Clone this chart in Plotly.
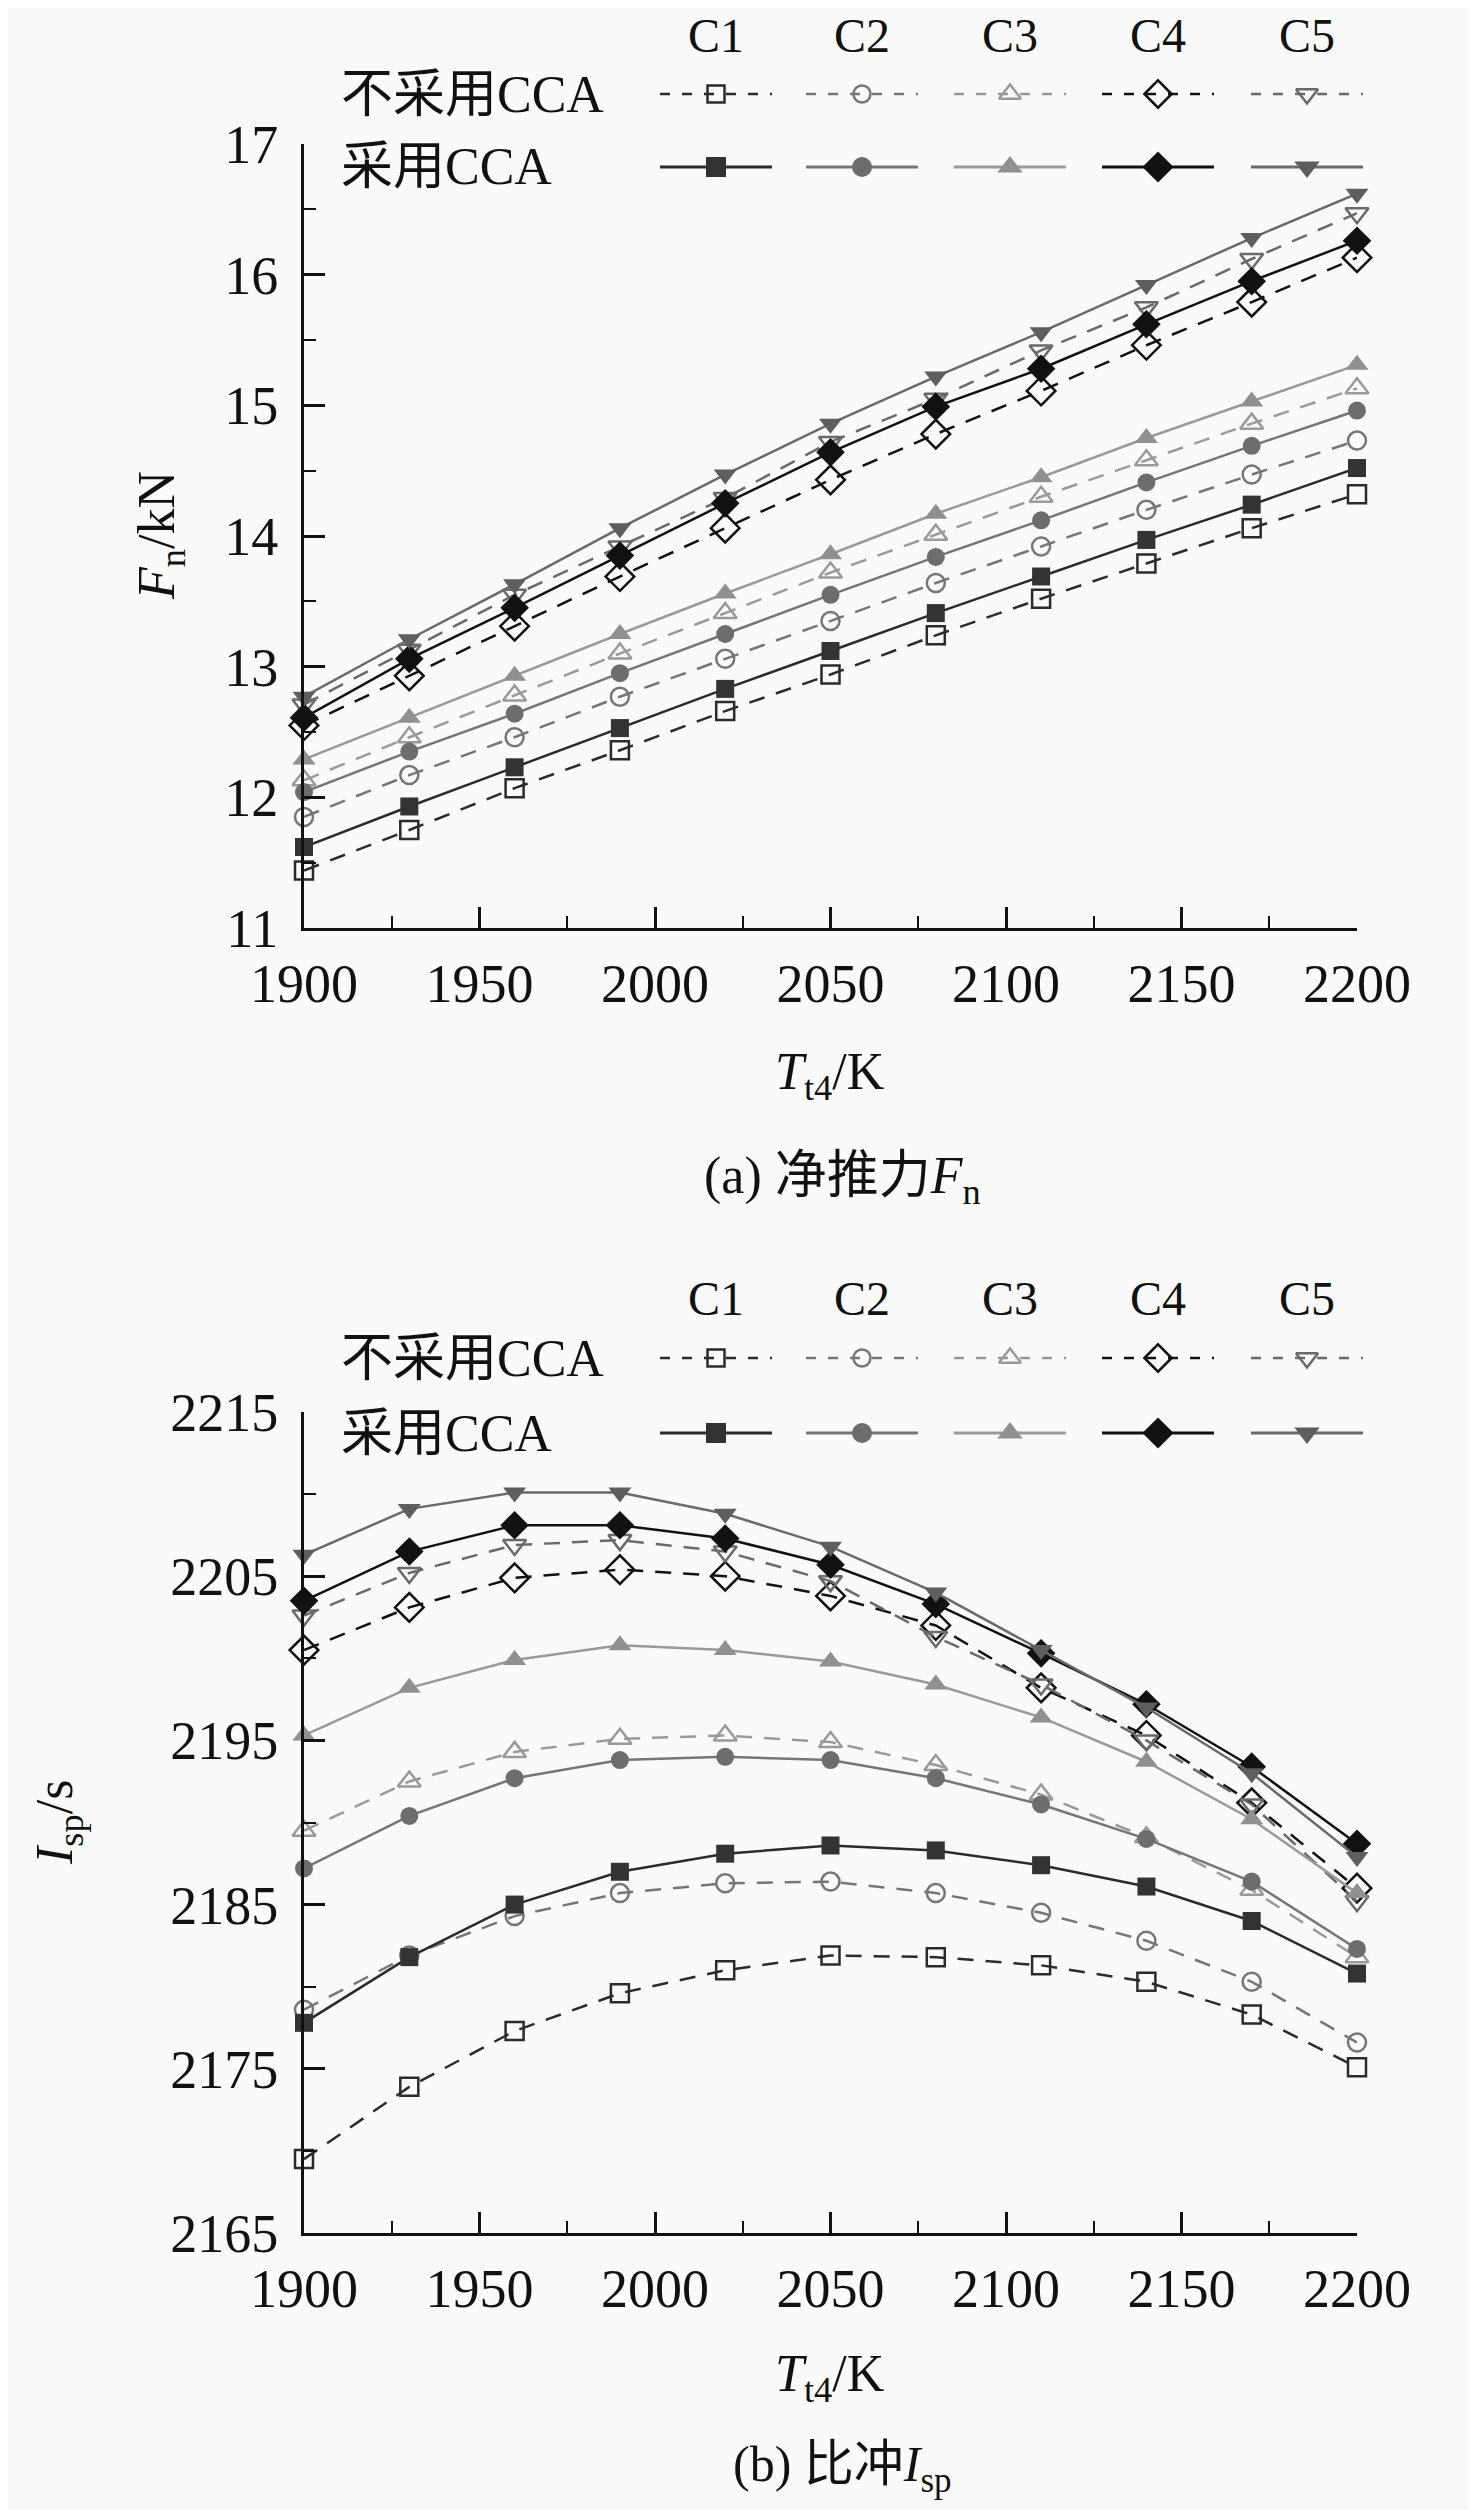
import plotly.graph_objects as go

# --- data ---
T_T4 = [1900, 1930, 1960, 1990, 2020, 2050, 2080, 2110, 2140, 2170, 2200]
CASES = ["C1", "C2", "C3", "C4", "C5"]

# net thrust Fn / kN, without CCA (dashed, open) and with CCA (solid, filled)
fn_c1_off = [11.44, 11.75, 12.07, 12.36, 12.66, 12.94, 13.24, 13.52, 13.79, 14.06, 14.32]
fn_c2_off = [11.85, 12.17, 12.46, 12.77, 13.06, 13.35, 13.64, 13.92, 14.20, 14.47, 14.73]
fn_c3_off = [12.13, 12.46, 12.78, 13.10, 13.41, 13.72, 14.01, 14.30, 14.58, 14.86, 15.13]
fn_c4_off = [12.55, 12.93, 13.31, 13.69, 14.06, 14.43, 14.78, 15.11, 15.46, 15.79, 16.13]
fn_c5_off = [12.71, 13.13, 13.55, 13.92, 14.29, 14.72, 15.05, 15.42, 15.75, 16.12, 16.47]
fn_c1_on = [11.62, 11.93, 12.23, 12.53, 12.83, 13.12, 13.41, 13.69, 13.97, 14.24, 14.52]
fn_c2_on = [12.04, 12.35, 12.64, 12.95, 13.25, 13.55, 13.84, 14.12, 14.41, 14.69, 14.96]
fn_c3_on = [12.29, 12.61, 12.93, 13.25, 13.56, 13.86, 14.17, 14.45, 14.75, 15.03, 15.31]
fn_c4_on = [12.61, 13.06, 13.45, 13.85, 14.25, 14.64, 14.99, 15.28, 15.62, 15.95, 16.26]
fn_c5_on = [12.77, 13.21, 13.63, 14.06, 14.47, 14.86, 15.22, 15.56, 15.92, 16.28, 16.62]

# specific impulse Isp / s
isp_c1_off = [2169.5, 2173.9, 2177.3, 2179.6, 2181.0, 2181.9, 2181.8, 2181.3, 2180.3, 2178.3, 2175.1]
isp_c2_off = [2178.6, 2181.9, 2184.3, 2185.7, 2186.3, 2186.4, 2185.7, 2184.5, 2182.8, 2180.3, 2176.6]
isp_c3_off = [2189.5, 2192.5, 2194.3, 2195.1, 2195.3, 2194.9, 2193.5, 2191.7, 2189.1, 2185.9, 2181.8]
isp_c4_off = [2200.5, 2203.1, 2204.9, 2205.4, 2205.0, 2203.8, 2202.0, 2198.2, 2195.3, 2191.2, 2186.0]
isp_c5_off = [2202.6, 2205.2, 2206.9, 2207.2, 2206.5, 2204.7, 2201.3, 2198.4, 2195.0, 2191.1, 2185.2]
isp_c1_on = [2177.8, 2181.8, 2185.0, 2187.0, 2188.1, 2188.6, 2188.3, 2187.4, 2186.1, 2184.0, 2180.8]
isp_c2_on = [2187.2, 2190.4, 2192.7, 2193.8, 2194.0, 2193.8, 2192.7, 2191.1, 2189.0, 2186.4, 2182.3]
isp_c3_on = [2195.3, 2198.2, 2199.9, 2200.8, 2200.5, 2199.8, 2198.4, 2196.4, 2193.7, 2190.2, 2185.7]
isp_c4_on = [2203.5, 2206.5, 2208.1, 2208.1, 2207.3, 2205.7, 2203.3, 2200.3, 2197.2, 2193.4, 2188.7]
isp_c5_on = [2206.3, 2209.1, 2210.1, 2210.1, 2208.8, 2206.8, 2204.0, 2200.5, 2197.0, 2193.0, 2187.9]

# --- style ---
W, H = 1476, 2510
OFF = 8  # page body margin
BG = "#fafafa"
FONT = "Liberation Serif, Times New Roman, Noto Sans CJK SC, serif"
LINE_COL = ["#2b2b2b", "#767676", "#9a9a9a", "#111111", "#6a6a6a"]
MARK_COL = ["#333333", "#6d6d6d", "#909090", "#111111", "#5e5e5e"]
SYM_ON = ["square", "circle", "triangle-up", "diamond", "triangle-down"]
SYM_OFF = ["square-open", "circle-open", "triangle-up-open", "diamond-open", "triangle-down-open"]
MSIZE = [18, 18, 20, 22, 20]
DASH = "16px,12px"


def px(x):
    return (x - OFF) / W


def py(y):
    return 1 - (y - OFF) / H


fig = go.Figure()

panels = [
    ("x", "y", [fn_c1_off, fn_c2_off, fn_c3_off, fn_c4_off, fn_c5_off],
     [fn_c1_on, fn_c2_on, fn_c3_on, fn_c4_on, fn_c5_on]),
    ("x2", "y2", [isp_c1_off, isp_c2_off, isp_c3_off, isp_c4_off, isp_c5_off],
     [isp_c1_on, isp_c2_on, isp_c3_on, isp_c4_on, isp_c5_on]),
]

for xa, ya, offs, ons in panels:
    for i in range(5):
        fig.add_trace(go.Scatter(
            x=T_T4, y=offs[i], xaxis=xa, yaxis=ya, mode="lines+markers",
            line=dict(color=LINE_COL[i], width=2.5, dash=DASH),
            marker=dict(symbol=SYM_OFF[i], size=MSIZE[i], color=LINE_COL[i],
                        line=dict(width=2.5, color=LINE_COL[i])),
            cliponaxis=False, showlegend=False))
    for i in range(5):
        fig.add_trace(go.Scatter(
            x=T_T4, y=ons[i], xaxis=xa, yaxis=ya, mode="lines+markers",
            line=dict(color=LINE_COL[i], width=2.5),
            marker=dict(symbol=SYM_ON[i], size=MSIZE[i], color=MARK_COL[i],
                        line=dict(width=0)),
            cliponaxis=False, showlegend=False))

# --- hand-made grid legend, drawn on a hidden pixel-space axis ---
COL_X = [716, 862, 1010, 1158, 1307]
annotations = []


def note(x, y, text, size, xanchor="center", angle=0):
    annotations.append(dict(x=px(x), y=py(y), text=text, showarrow=False, textangle=angle,
                            xanchor=xanchor, yanchor="middle", xref="paper", yref="paper",
                            borderpad=0, font=dict(size=size, color="#111")))


def add_legend(y_head, y_off, y_on):
    for i, c in enumerate(COL_X):
        note(c, y_head, CASES[i], 48)
        fig.add_trace(go.Scatter(x=[c - 56, c + 56], y=[y_off, y_off], xaxis="x3", yaxis="y3",
                                 mode="lines", line=dict(color=LINE_COL[i], width=2.5, dash="10px,12px"),
                                 showlegend=False))
        fig.add_trace(go.Scatter(x=[c], y=[y_off], xaxis="x3", yaxis="y3", mode="markers",
                                 marker=dict(symbol=SYM_OFF[i], size=MSIZE[i] - 1, color=LINE_COL[i],
                                             line=dict(width=2.5, color=LINE_COL[i])),
                                 showlegend=False))
        fig.add_trace(go.Scatter(x=[c - 56, c + 56], y=[y_on, y_on], xaxis="x3", yaxis="y3",
                                 mode="lines", line=dict(color=LINE_COL[i], width=3),
                                 showlegend=False))
        fig.add_trace(go.Scatter(x=[c], y=[y_on], xaxis="x3", yaxis="y3", mode="markers",
                                 marker=dict(symbol=SYM_ON[i], size=MSIZE[i] + 2, color=MARK_COL[i]),
                                 showlegend=False))
    note(340, y_off, "不采用CCA", 52, xanchor="left")
    note(340, y_on, "采用CCA", 52, xanchor="left")


add_legend(36, 94, 167)
add_legend(1298, 1358, 1433)

# axis titles and captions
note(830, 1076, "<i>T</i><sub>t4</sub>/K", 52)
note(842, 1180, "(a) 净推力<i>F</i><sub>n</sub>", 52)
note(160, 536, "<i>F</i><sub>n</sub>/kN", 52, angle=-90)
note(830, 2377, "<i>T</i><sub>t4</sub>/K", 52)
note(842, 2468, "(b) 比冲<i>I</i><sub>sp</sub>", 50)
note(58, 1822, "<i>I</i><sub>sp</sub>/s", 52, angle=-90)

axis_common = dict(showline=True, linewidth=3, linecolor="#111", showgrid=False, zeroline=False,
                   ticks="inside", ticklen=21, tickwidth=2.5, tickcolor="#111", automargin=False,
                   tickfont=dict(size=54, color="#111"), mirror=False)

fig.update_layout(
    width=W, height=H, margin=dict(l=0, r=0, t=0, b=0),
    paper_bgcolor=BG, plot_bgcolor="rgba(0,0,0,0)", font=dict(family=FONT, color="#111"),
    showlegend=False,
    xaxis=dict(domain=[px(304), px(1357)], anchor="y", range=[1900, 2200], tickmode="linear",
               tick0=1900, dtick=50, ticklabelstandoff=6,
               minor=dict(ticks="inside", dtick=25, ticklen=12, tickwidth=2, tickcolor="#111"),
               **axis_common),
    yaxis=dict(domain=[py(928), py(144)], anchor="x", range=[11, 17], tickmode="linear",
               tick0=11, dtick=1, ticklabelstandoff=12,
               minor=dict(ticks="inside", dtick=0.5, ticklen=12, tickwidth=2, tickcolor="#111"),
               **axis_common),
    xaxis2=dict(domain=[px(304), px(1357)], anchor="y2", range=[1900, 2200], tickmode="linear",
                tick0=1900, dtick=50, ticklabelstandoff=6,
                minor=dict(ticks="inside", dtick=25, ticklen=12, tickwidth=2, tickcolor="#111"),
                **axis_common),
    yaxis2=dict(domain=[py(2233), py(1412)], anchor="x2", range=[2165, 2215], tickmode="linear",
                tick0=2165, dtick=10, ticklabelstandoff=12,
                minor=dict(ticks="inside", dtick=5, ticklen=12, tickwidth=2, tickcolor="#111"),
                **axis_common),
    xaxis3=dict(domain=[0, 1], anchor="y3", range=[OFF, W + OFF], visible=False, fixedrange=True,
                automargin=False),
    yaxis3=dict(domain=[0, 1], anchor="x3", range=[H + OFF, OFF], visible=False, fixedrange=True,
                automargin=False),
    annotations=annotations,
)

fig.write_html("out.html")
